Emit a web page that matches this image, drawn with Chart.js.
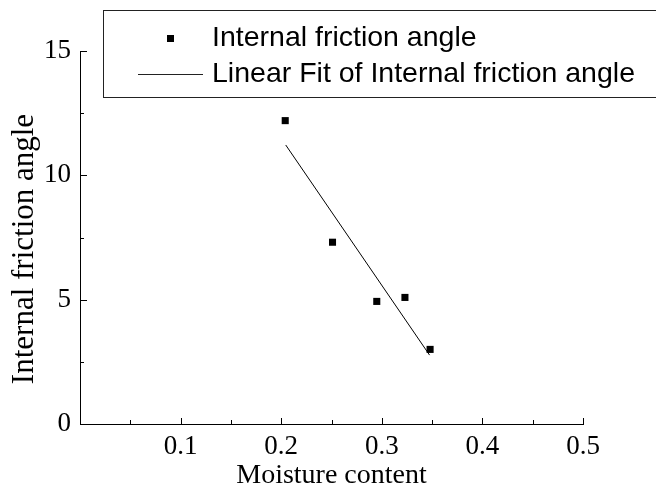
<!DOCTYPE html>
<html>
<head>
<meta charset="utf-8">
<script src="https://cdn.jsdelivr.net/npm/chart.js@4.4.0/dist/chart.umd.min.js"></script>
<style>
  html, body { margin: 0; padding: 0; background: #fff; }
  #wrap { width: 656px; height: 491px; }
</style>
</head>
<body>
<div id="wrap"><canvas id="c" width="656" height="491"></canvas></div>
<script>
// ── DADOS ────────────────────────────────────────────────────────────────────
const moisture = [0.204, 0.251, 0.295, 0.323, 0.348]
const frictionAngle = [12.2, 7.31, 4.93, 5.09, 3.0]
const fitX = [0.2045, 0.3475]
const fitY = [11.22, 2.77]
const xMajor = [0.1, 0.2, 0.3, 0.4, 0.5]
const xMinor = [0.05, 0.15, 0.25, 0.35, 0.45]
const yMajor = [0, 5, 10, 15]
const yMinor = [2.5, 7.5, 12.5]
const seriesLabel = 'Internal friction angle'
const fitLabel = 'Linear Fit of Internal friction angle'
const yTitle = 'Internal friction angle'

const serif = '"Liberation Serif", "Times New Roman", serif'
const sans = '"Liberation Sans", Arial, sans-serif'

// ── PLUGINS ──────────────────────────────────────────────────────────────────

// ticks para dentro da área do gráfico
const innerTicks = {
  id: 'innerTicks',
  afterDraw(chart) {
    const { ctx, scales: { x, y } } = chart
    ctx.save()
    ctx.strokeStyle = '#000'
    ctx.lineWidth = 1
    ctx.beginPath()
    const bottom = y.getPixelForValue(0)
    const left = x.getPixelForValue(0)
    xMajor.forEach(v => { const px = Math.round(x.getPixelForValue(v)) + 0.5; ctx.moveTo(px, bottom); ctx.lineTo(px, bottom - 6) })
    xMinor.forEach(v => { const px = Math.round(x.getPixelForValue(v)) + 0.5; ctx.moveTo(px, bottom); ctx.lineTo(px, bottom - 4) })
    yMajor.forEach(v => { const py = Math.round(y.getPixelForValue(v)) + 0.5; ctx.moveTo(left, py); ctx.lineTo(left + 7, py) })
    yMinor.forEach(v => { const py = Math.round(y.getPixelForValue(v)) + 0.5; ctx.moveTo(left, py); ctx.lineTo(left + 4, py) })
    ctx.stroke()

    // título do eixo y (um pouco abaixo do centro, como no original)
    ctx.fillStyle = '#000'
    ctx.font = '31px ' + serif
    ctx.textAlign = 'center'
    ctx.textBaseline = 'middle'
    ctx.translate(25, 249)
    ctx.rotate(-Math.PI / 2)
    ctx.fillText(yTitle, 0, 0)
    ctx.restore()
  }
}

// legenda com caixa
const boxLegend = {
  id: 'boxLegend',
  afterDraw(chart) {
    const { ctx } = chart
    ctx.save()
    ctx.fillStyle = '#fff'
    ctx.fillRect(103, 10, 560, 87)
    ctx.strokeStyle = '#222'
    ctx.lineWidth = 1
    ctx.strokeRect(103.5, 10.5, 560, 87)
    ctx.fillStyle = '#000'
    ctx.fillRect(167, 35, 7, 7)
    ctx.beginPath()
    ctx.moveTo(138, 74.5)
    ctx.lineTo(203, 74.5)
    ctx.stroke()
    ctx.font = '28.5px ' + sans
    ctx.textBaseline = 'middle'
    ctx.fillText(chart.data.datasets[0].label, 212, 38)
    ctx.fillText(chart.data.datasets[1].label, 212, 74.5)
    ctx.restore()
  }
}

// ── GRÁFICO ──────────────────────────────────────────────────────────────────

new Chart(document.getElementById('c'), {
  type: 'scatter',
  data: {
    datasets: [
      {
        label: seriesLabel,
        data: moisture.map((m, i) => ({ x: m, y: frictionAngle[i] })),
        pointStyle: 'rect',
        pointRadius: 5,
        backgroundColor: '#000',
        borderColor: '#000',
        borderWidth: 0
      },
      {
        label: fitLabel,
        type: 'line',
        data: fitX.map((m, i) => ({ x: m, y: fitY[i] })),
        borderColor: '#000',
        borderWidth: 1,
        pointRadius: 0,
        fill: false
      }
    ]
  },
  options: {
    responsive: false,
    animation: false,
    devicePixelRatio: 1,
    layout: { padding: { top: 51, right: 73, left: 0, bottom: 0 } },
    plugins: { legend: { display: false }, tooltip: { enabled: false } },
    scales: {
      x: {
        type: 'linear',
        min: 0, max: 0.5,
        afterFit: s => { s.height = 67 },
        grid: { display: true, drawOnChartArea: false, drawTicks: false },
        border: { display: true, color: '#000', width: 1 },
        ticks: {
          stepSize: 0.1,
          padding: 7,
          color: '#000',
          font: { family: serif, size: 27 },
          callback: v => v === 0 ? '' : Number(v).toFixed(1)
        },
        title: {
          display: true,
          text: 'Moisture content',
          color: '#000',
          font: { family: serif, size: 28 },
          padding: { top: 0, bottom: -1 }
        }
      },
      y: {
        type: 'linear',
        min: 0, max: 15,
        afterFit: s => { s.width = 80 },
        grid: { display: true, drawOnChartArea: false, drawTicks: false },
        border: { display: true, color: '#000', width: 1 },
        ticks: {
          stepSize: 5,
          padding: 9,
          color: '#000',
          font: { family: serif, size: 27 }
        },
        title: { display: false }
      }
    }
  },
  plugins: [innerTicks, boxLegend]
})
</script>
</body>
</html>
